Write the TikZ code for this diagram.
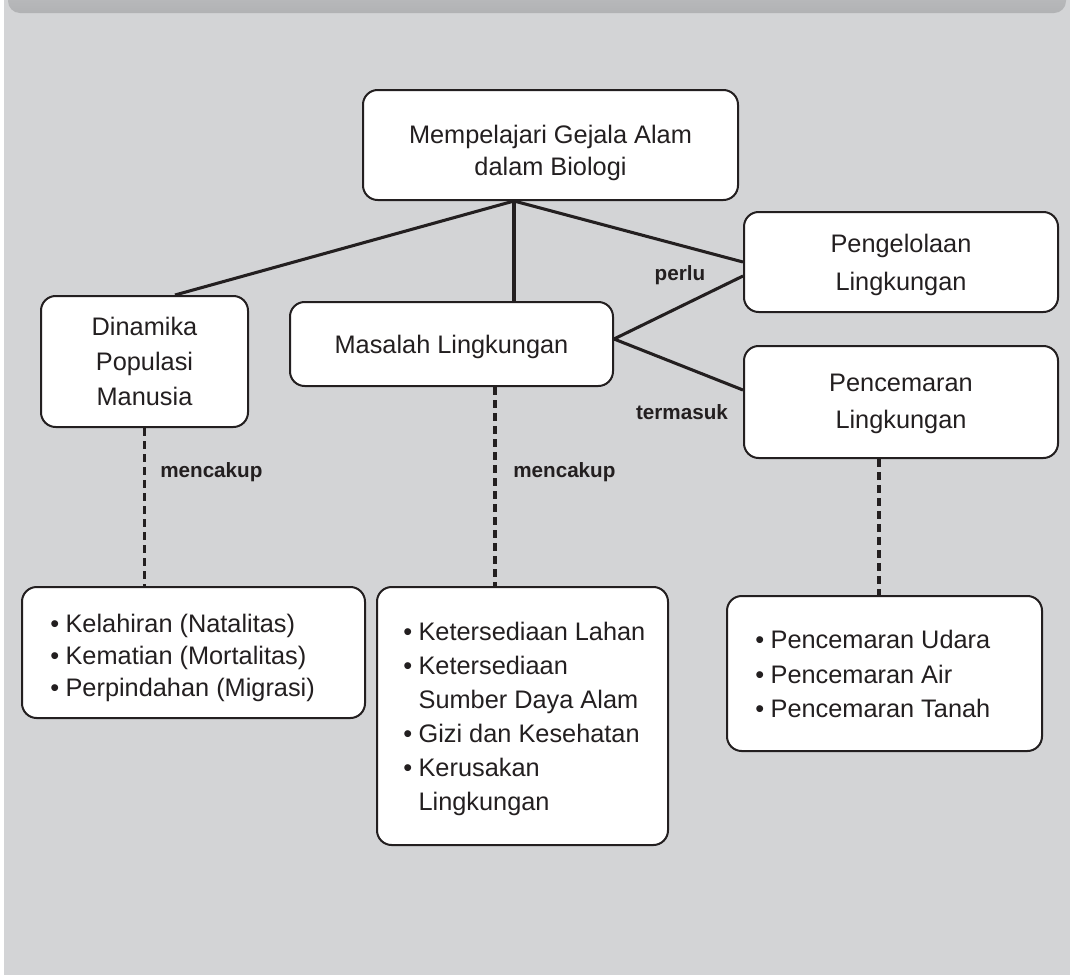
\documentclass[tikz,border=0pt]{standalone}
\usepackage{fontspec}
\setmainfont{Liberation Sans}
\usetikzlibrary{calc}
\definecolor{bg}{HTML}{D3D4D6}
\definecolor{bandtop}{HTML}{C4C5C7}
\definecolor{bandbot}{HTML}{B1B2B4}
\definecolor{ink}{HTML}{231F20}
\newcommand\bul{\makebox[11.5pt][l]{\textbullet}}
\newcommand\cont{\hspace*{11.5pt}}
\begin{document}
\begin{tikzpicture}[x=0.75pt,y=-0.75pt,
  box/.style={draw=ink,line width=1.5pt,fill=white,rounded corners=11pt,inner sep=0pt},
  txt/.style={text=ink,inner sep=0pt,align=center},
  listtxt/.style={text=ink,inner sep=0pt,align=left,anchor=west},
  link/.style={draw=ink,line width=2.3pt},
  dotlink/.style={draw=ink,line width=2.3pt,dash pattern=on 6pt off 3.75pt},
  lbl/.style={text=ink,inner sep=0pt,font=\bfseries\fontsize{15.5}{18}\selectfont}]
% page and background
\useasboundingbox (0,0) rectangle (1070,975);
\clip (0,0) rectangle (1070,975);
\fill[white] (0,0) rectangle (1070,975);
\fill[bg] (4,0) rectangle (1070,975);
\shade[top color=bandtop,bottom color=bandbot,rounded corners=9pt]
  (8,-30) -- (8,13) -- (1066,13) -- (1066,-30) -- cycle;

% concept boxes
\node[box,minimum width=281.25pt,minimum height=82.5pt] (top) at (550.5,145) {};
\node[txt,font=\fontsize{19}{24}\selectfont] (topT) at (550.5,153)
  {Mempelajari Gejala Alam\\dalam Biologi};
\node[box,minimum width=155.25pt,minimum height=98.25pt] (dyn) at (144.5,361.5) {};
\node[txt,font=\fontsize{19}{26.25}\selectfont] (dynT) at (144.5,361.5)
  {Dinamika\\Populasi\\Manusia};
\node[box,minimum width=242.25pt,minimum height=63pt] (mas) at (451.5,344) {};
\node[txt,font=\fontsize{19}{22.5}\selectfont] (masT) at (451.5,347)
  {Masalah Lingkungan};
\node[box,minimum width=235.5pt,minimum height=75pt] (peng) at (901,262) {};
\node[txt,font=\fontsize{19}{28}\selectfont] (pengT) at (901,265)
  {Pengelolaan\\Lingkungan};
\node[box,minimum width=235.5pt,minimum height=84pt] (penc) at (901,402) {};
\node[txt,font=\fontsize{19}{27.75}\selectfont] (pencT) at (901,404)
  {Pencemaran\\Lingkungan};

% list boxes
\node[box,minimum width=257.25pt,minimum height=98.25pt] (ll) at (193.5,652.5) {};
\node[listtxt,font=\fontsize{19}{24}\selectfont] (llT) at (50,657.5)
  {\bul Kelahiran (Natalitas)\\
   \bul Kematian (Mortalitas)\\
   \bul Perpindahan (Migrasi)};
\node[box,minimum width=218.25pt,minimum height=193.5pt] (ml) at (522.5,716) {};
\node[listtxt,font=\fontsize{19}{25.5}\selectfont] (mlT) at (403,719)
  {\bul Ketersediaan Lahan\\
   \bul Ketersediaan\\
   \cont Sumber Daya Alam\\
   \bul Gizi dan Kesehatan\\
   \bul Kerusakan\\
   \cont Lingkungan};
\node[box,minimum width=236.25pt,minimum height=116.25pt] (rl) at (884.5,673.5) {};
\node[listtxt,font=\fontsize{19}{25.9}\selectfont] (rlT) at (755,674)
  {\bul Pencemaran Udara\\
   \bul Pencemaran Air\\
   \bul Pencemaran Tanah};

% connection points on the box borders
\coordinate (j) at ($(top.south)+(-36.5,0)$);
\coordinate (dynIn) at ($(dyn.north)+(30.5,0)$);
\coordinate (pengA) at (peng.west);
\coordinate (masR) at ($(mas.east)+(0,-5)$);
\coordinate (pengB) at ($(peng.west)+(0,14)$);
\coordinate (pencA) at ($(penc.west)+(0,-12)$);
\coordinate (masB) at ($(mas.south)+(43.5,0)$);
\coordinate (pencB) at ($(penc.south)+(-22,0)$);

% solid links
\draw[link] (j) -- (dynIn);
\draw[link] (j) -- (j |- mas.north);
\draw[link] (j) -- (pengA);
\draw[link] (masR) -- (pengB);
\draw[link] (masR) -- (pencA);

% dashed links
\draw[dotlink] (dyn.south) -- (dyn.south |- ll.north);
\draw[dotlink] (masB) -- (masB |- ml.north);
\draw[dotlink] (pencB) -- (pencB |- rl.north);

% link labels
\node[lbl] (perlu) at (680,275) {perlu};
\node[lbl] (termasuk) at (682,412) {termasuk};
\node[lbl,anchor=west] (mc1) at (160,472) {mencakup};
\node[lbl,anchor=west] (mc2) at (513,472) {mencakup};
\end{tikzpicture}
\end{document}
